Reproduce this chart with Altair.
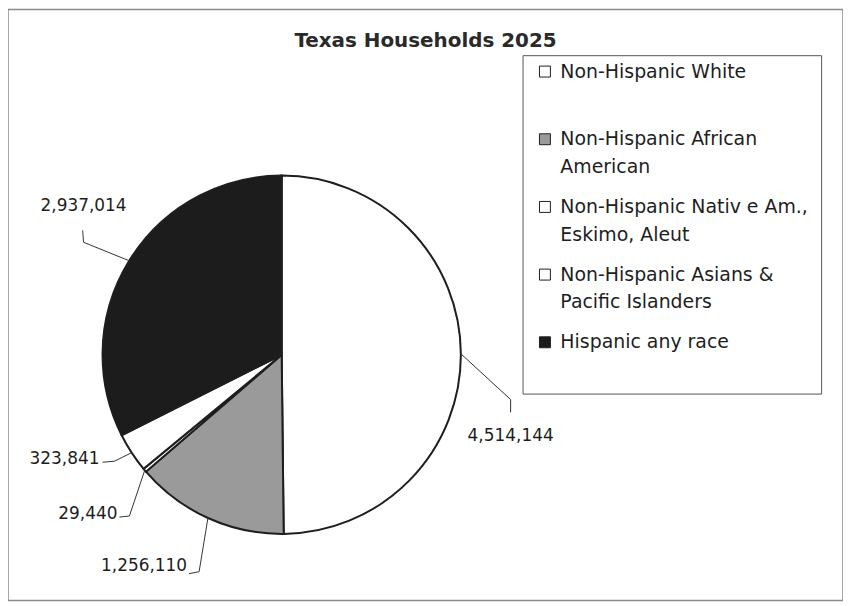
import math
import json
import altair as alt
import pandas as pd

# ---------------- data ----------------
categories = [
    "Non-Hispanic White",
    "Non-Hispanic African American",
    "Non-Hispanic Nativ e Am., Eskimo, Aleut",
    "Non-Hispanic Asians & Pacific Islanders",
    "Hispanic any race",
]
values = [4514144, 1256110, 29440, 323841, 2937014]
fills = ["#ffffff", "#9a9a9a", "#ffffff", "#ffffff", "#1c1c1c"]
legend_lines = [
    ["Non-Hispanic White", " "],
    ["Non-Hispanic African", "American"],
    ["Non-Hispanic Nativ e Am.,", "Eskimo, Aleut"],
    ["Non-Hispanic Asians &", "Pacific Islanders"],
    ["Hispanic any race", " "],
]
title_text = "Texas Households 2025"

# ---------------- label layout (pie units: centre 0,0, radius 1, y up) ----------------
label_anchor = [(1.278, -0.456), (-0.528, -1.178), (-0.917, -0.889), (-1.017, -0.583), (-1.106, 0.833)]
label_align = ["center", "right", "right", "right", "center"]
leader_elbow = [(1.278, -0.25), (-0.461, -1.211), (-0.85, -0.9), (-0.933, -0.594), (-1.106, 0.628)]
leader_end = [(1.278, -0.322), (-0.517, -1.222), (-0.906, -0.906), (-1.0, -0.6), (-1.111, 0.694)]

# ---------------- layout ----------------
W, H = 839, 594          # view size (px)
R = 180                  # pie radius (px)
CX, CY = 275, 347        # pie centre within the view (px)
FONT = "DejaVu Sans"
INK = "#1e1e1e"

xs = alt.Scale(domain=[-CX / R, (W - CX) / R], nice=False, zero=False)
ys = alt.Scale(domain=[-(H - CY) / R, CY / R], nice=False, zero=False)

# ---------------- tables ----------------
pie_df = pd.DataFrame({
    "category": categories,
    "value": values,
    "idx": list(range(len(categories))),
})

total = float(sum(values))
lead_rows, lab_rows = [], []
cum = 0.0
for i, (c, v) in enumerate(zip(categories, values)):
    mid = (cum + v / 2.0) / total * 2 * math.pi
    cum += v
    ex, ey = math.sin(mid), math.cos(mid)
    pts = [(ex, ey), leader_elbow[i], leader_end[i]]
    for k, (px, py) in enumerate(pts):
        lead_rows.append({"category": c, "pt": k, "u": px, "v": py})
    lab_rows.append({"category": c, "value": v, "u": label_anchor[i][0],
                     "v": label_anchor[i][1], "align": label_align[i]})
lead_df = pd.DataFrame(lead_rows)
lab_df = pd.DataFrame(lab_rows)

label_expr = "{}[indexof({}, datum.label)]".format(json.dumps(legend_lines), json.dumps(categories))

# ---------------- chart ----------------
arc = alt.Chart(pie_df).mark_arc(radius=R, stroke=INK, strokeWidth=2).encode(
    theta=alt.Theta("value:Q", stack=True),
    order=alt.Order("idx:Q"),
    x=alt.X(datum=0, type="quantitative", scale=xs, axis=None),
    y=alt.Y(datum=0, type="quantitative", scale=ys, axis=None),
    fill=alt.Fill(
        "category:N",
        scale=alt.Scale(domain=categories, range=fills),
        sort=categories,
        legend=alt.Legend(
            title=None, orient="none", legendX=517, legendY=46,
            labelExpr=label_expr, labelBaseline="alphabetic",
            labelFont=FONT, labelFontSize=19, labelColor=INK, labelLimit=600,
            labelOffset=6,
            symbolType="M-1,-2.1H1V-0.1H-1Z", symbolSize=121,
            symbolStrokeColor=INK, symbolStrokeWidth=1,
            padding=13, rowPadding=20,
            strokeColor="#555555", fillColor="white",
        ),
    ),
)

leaders = alt.Chart(lead_df).mark_line(color="#333333", strokeWidth=1).encode(
    x=alt.X("u:Q", scale=xs, axis=None),
    y=alt.Y("v:Q", scale=ys, axis=None),
    detail="category:N",
    order="pt:Q",
)

def label_layer(al):
    return alt.Chart(lab_df).transform_filter(
        alt.datum.align == al
    ).mark_text(align=al, baseline="middle", font=FONT, fontSize=17, color=INK).encode(
        x=alt.X("u:Q", scale=xs, axis=None),
        y=alt.Y("v:Q", scale=ys, axis=None),
        text=alt.Text("value:Q", format=","),
    )

chart = alt.layer(arc, leaders, label_layer("center"), label_layer("right")).properties(
    width=W, height=H,
    padding=0,
    autosize=alt.AutoSizeParams(type="none"),
    title=alt.TitleParams(
        title_text, font=FONT, fontSize=20, fontWeight="bold", color="#2a2a2a",
        anchor="middle", baseline="middle", offset=-52,
    ),
).configure(
    background="white",
    style={"guide-label": {"lineHeight": 28}},
).configure_view(
    stroke="#8a8a8a", strokeWidth=1.5, fill="white",
)

chart.save("out.html", embed_options={"renderer": "svg", "actions": False})
